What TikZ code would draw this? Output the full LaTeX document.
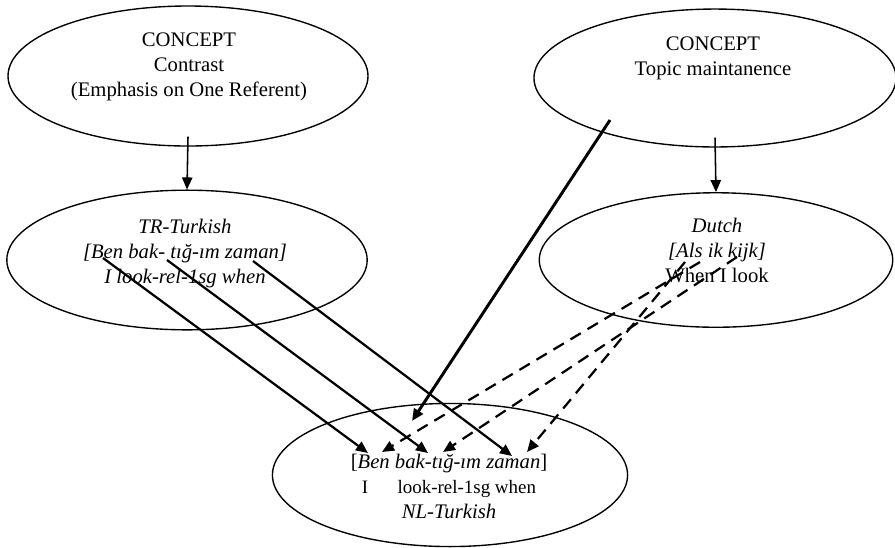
\documentclass[tikz,border=0pt]{standalone}
\usepackage{fontspec}
\setmainfont{Liberation Serif}
\usetikzlibrary{shapes.geometric,arrows.meta}
\tikzset{
  bub/.style={draw,ellipse,inner sep=0pt,line width=0.8pt},
  txt/.style={align=center,inner sep=0pt,font=\fontsize{12}{14.5}\selectfont},
  link/.style={-{Triangle[length=7pt,width=6pt]},line width=1.3pt},
  dlink/.style={link,dash pattern=on 7pt off 4.5pt}
}
\begin{document}
\begin{tikzpicture}[x=0.58pt,y=-0.58pt]
\path[use as bounding box] (0,0) rectangle (895,547);
\node(C1)[bub,minimum width=208.8pt,minimum height=81.2pt] at (188,76){};
\node(C2)[bub,minimum width=210pt,minimum height=80pt] at (715,78){};
\node(TR)[bub,minimum width=209pt,minimum height=81pt] at (187,260){};
\node(DU)[bub,minimum width=205pt,minimum height=78pt] at (716,260){};
\node(NL)[bub,minimum width=206pt,minimum height=83pt] at (450,475){};
\node(C1t)[txt] at (189,66.5){CONCEPT\\Contrast\\(Emphasis on One Referent)};
\node(C2t)[txt] at (713,58.5){CONCEPT\\Topic maintanence};
\node(TRt)[txt] at (185,253.5){\itshape TR-Turkish\\\itshape [Ben bak- tığ-ım zaman]\\\itshape I look-rel-1sg when};
\node(DUt)[txt] at (717,250.5){\itshape Dutch\\\itshape [Als ik kijk]\\When I look};
\node(NLt)[txt] at (449,486){[\textit{Ben bak-tığ-ım zaman}]\\{\fontsize{11}{14.5}\selectfont I\hspace{17pt}look-rel-1sg when\hspace{6.4pt}}\\\itshape NL-Turkish};
\coordinate(ben) at (103,258);
\coordinate(bak) at (167,260);
\coordinate(zaman) at (253,261);
\coordinate(als) at (700,262);
\coordinate(ik) at (737,257);
\coordinate(kijk) at (685,262);
\coordinate(topic) at (610,120);
\coordinate(nben) at (368,453);
\coordinate(nbak) at (428,453);
\coordinate(nzaman) at (512,456);
\coordinate(nals) at (382,452);
\coordinate(nik) at (443,452);
\coordinate(nkijk) at (527,452);
\coordinate(ntopic) at (412,421);
\draw[link,line width=0.9pt] ([yshift=5.8pt]C1.south) -- (TR.north);
\draw[link,line width=0.9pt] ([yshift=5.8pt]C2.south) -- (DU.north);
\draw[link,line width=1.7pt] (topic) -- (ntopic);
\foreach \a/\b in {ben/nben,bak/nbak,zaman/nzaman}
  \draw[link] (\a) -- (\b);
\foreach \a/\b in {als/nals,ik/nik,kijk/nkijk}
  \draw[dlink] (\a) -- (\b);
\end{tikzpicture}
\end{document}
